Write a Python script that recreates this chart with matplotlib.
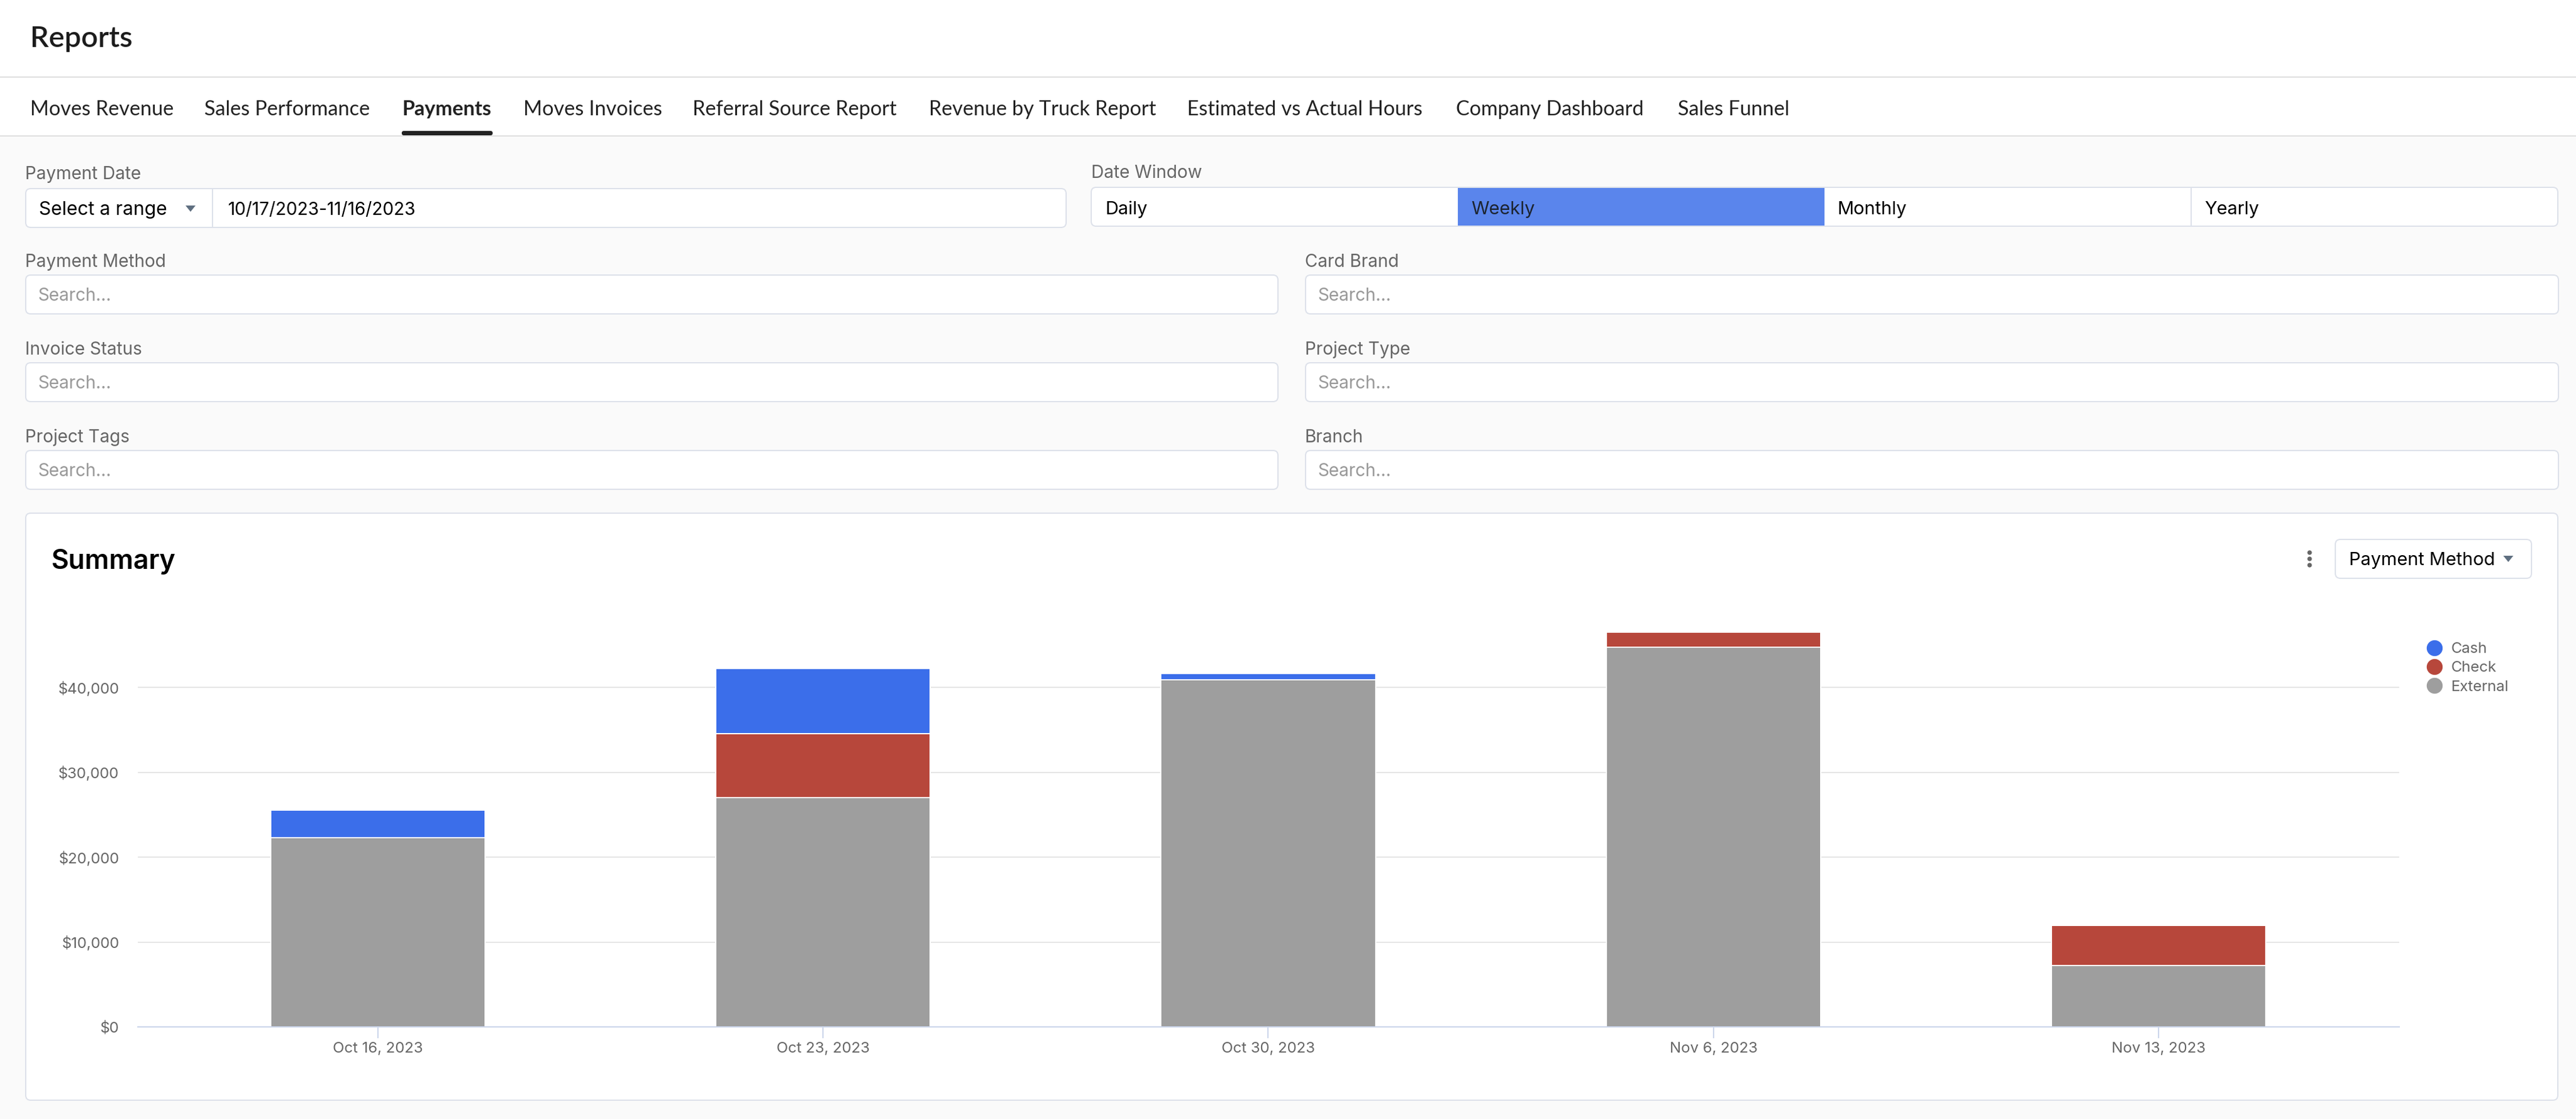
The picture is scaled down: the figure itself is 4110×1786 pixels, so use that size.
import matplotlib
matplotlib.use("Agg")
import matplotlib.pyplot as plt
from matplotlib.lines import Line2D
from matplotlib.patches import FancyBboxPatch, Rectangle, Polygon, Circle
import numpy as np

W, H = 4110, 1786
PX = 72 / 100  # one pixel in points at dpi=100

BORDER = "#dde1ea"
LABEL = "#666666"
HINT = "#999999"
UI_FONT = "Inter"
TAB_FONT = "Lato"

weeks = ["Oct 16, 2023", "Oct 23, 2023", "Oct 30, 2023", "Nov 6, 2023", "Nov 13, 2023"]
payments = {
    "External": [22300, 27030, 40920, 44760, 7240],
    "Check": [0, 7530, 0, 1760, 4720],
    "Cash": [3250, 7680, 730, 0, 0],
}
colors = {"Cash": "#3b6eea", "Check": "#b7473b", "External": "#9e9e9e"}

fig = plt.figure(figsize=(W / 100, H / 100), dpi=100, facecolor="#fafafa")

# page furniture, drawn in pixel coordinates
bg = fig.add_axes([0, 0, 1, 1], zorder=0)
bg.set_xlim(0, W)
bg.set_ylim(H, 0)
bg.axis("off")


def box(x0, y0, x1, y1, fc="white", ec=BORDER, r=8):
    bg.add_patch(FancyBboxPatch((x0, y0), x1 - x0, y1 - y0,
                                boxstyle=f"round,pad=0,rounding_size={r}",
                                fc=fc, ec=ec, lw=2 * PX))


def label(x, y, s, size=28, color="black", font=UI_FONT, weight="normal"):
    bg.text(x, y, s, fontsize=size * PX, color=color, family=font,
            weight=weight, ha="left", va="center_baseline")


def arrow(x, y, w=16, h=10, color="#5f6f80"):
    bg.add_patch(Polygon([(x - w / 2, y - h / 2), (x + w / 2, y - h / 2), (x, y + h / 2)],
                         closed=True, fc=color, ec="none"))


# header and tabs
bg.add_patch(Rectangle((0, 0), W, 217, fc="white", ec="none"))
bg.plot([0, W], [123, 123], color="#e0e0e0", lw=2 * PX)
bg.plot([0, W], [217, 217], color="#e0e0e0", lw=2 * PX)
label(48, 58, "Reports", size=47, color="#1c1c1c", font=TAB_FONT, weight="semibold")

tabs = [("Moves Revenue", 48), ("Sales Performance", 326), ("Payments", 641),
        ("Moves Invoices", 835), ("Referral Source Report", 1105),
        ("Revenue by Truck Report", 1482), ("Estimated vs Actual Hours", 1894),
        ("Company Dashboard", 2323), ("Sales Funnel", 2677)]
for name, x in tabs:
    label(x, 172, name, size=32.4, color="#222222", font=TAB_FONT,
          weight="bold" if name == "Payments" else "normal")
bg.add_patch(FancyBboxPatch((641, 209), 145, 7, boxstyle="round,pad=0,rounding_size=3",
                            fc="#222222", ec="none"))

# date filter
label(40, 276, "Payment Date", color=LABEL)
box(41, 301, 1701, 363)
bg.plot([339, 339], [301, 363], color=BORDER, lw=2 * PX)
label(62, 332, "Select a range", size=30)
arrow(304, 333)
label(364, 332, "10/17/2023-11/16/2023")

# date window segmented control
label(1741, 274, "Date Window", color=LABEL)
box(1741, 299, 4081, 361)
bg.add_patch(Rectangle((2326, 300), 585, 60, fc="#5a85ec", ec="none"))
bg.plot([3496, 3496], [299, 361], color=BORDER, lw=2 * PX)
for name, x in [("Daily", 1763), ("Weekly", 2347), ("Monthly", 2932), ("Yearly", 3517)]:
    label(x, 331, name, size=29, color="#1c2430" if name == "Weekly" else "black")

# search filters
filters = [("Payment Method", 41, 2039, 439), ("Card Brand", 2083, 4082, 439),
           ("Invoice Status", 41, 2039, 579), ("Project Type", 2083, 4082, 579),
           ("Project Tags", 41, 2039, 719), ("Branch", 2083, 4082, 719)]
for name, x0, x1, y0 in filters:
    label(x0 - 1, y0 - 24, name, color=LABEL)
    box(x0, y0, x1, y0 + 62)
    label(x0 + 19, y0 + 30, "Search...", color=HINT)

# summary card
box(41, 819, 4081, 1756)
label(82, 892, "Summary", size=43, weight="semibold")
for y in [882, 892, 902]:
    bg.add_patch(Circle((3685, y), 3.6, fc="#666666", ec="none"))
box(3726, 861, 4039, 923)
label(3748, 891, "Payment Method", size=29)
arrow(4002, 892)

# the chart
ax = fig.add_axes([220 / W, (H - 1639) / H, (3828 - 220) / W, 679 / H], zorder=1)
ax.patch.set_alpha(0)
x = np.arange(len(weeks))
bottom = np.zeros(len(weeks))
for method in ["External", "Check", "Cash"]:
    values = np.array(payments[method])
    ax.bar(x, values, width=342 / 710, bottom=bottom, color=colors[method],
           edgecolor="white", linewidth=2 * PX, label=method)
    bottom += values

ax.set_xlim(-383 / 710, 4 + 384 / 710)
ax.set_ylim(0, 679 / 135.4 * 10000)
ax.set_yticks([0, 10000, 20000, 30000, 40000])
ax.set_yticklabels(["$0", "$10,000", "$20,000", "$30,000", "$40,000"],
                   fontsize=24 * PX, color=LABEL, family=UI_FONT)
ax.set_xticks(x)
ax.set_xticklabels(weeks, fontsize=24 * PX, color=LABEL, family=UI_FONT)
ax.tick_params(axis="y", length=0, pad=30 * PX)
ax.tick_params(axis="x", length=18 * PX, width=2 * PX, color="#ccd6eb", pad=4)
ax.set_axisbelow(True)
ax.grid(axis="y", color="#e6e6e6", linewidth=2 * PX)
for side in ["top", "left", "right"]:
    ax.spines[side].set_visible(False)
ax.spines["bottom"].set_color("#ccd6eb")
ax.spines["bottom"].set_linewidth(2 * PX)

handles = [Line2D([], [], marker="o", linestyle="none", color=colors[m],
                  markersize=24 * PX, label=m) for m in ["Cash", "Check", "External"]]
ax.legend(handles=handles, loc="upper left", bbox_to_anchor=(3872, 1025),
          bbox_transform=bg.transData, frameon=False, borderpad=0, borderaxespad=0,
          labelspacing=0.35, handlelength=1, handletextpad=0.6,
          prop={"family": UI_FONT, "size": 24 * PX}, labelcolor=LABEL)

plt.savefig("out.png", dpi=100, facecolor=fig.get_facecolor())
